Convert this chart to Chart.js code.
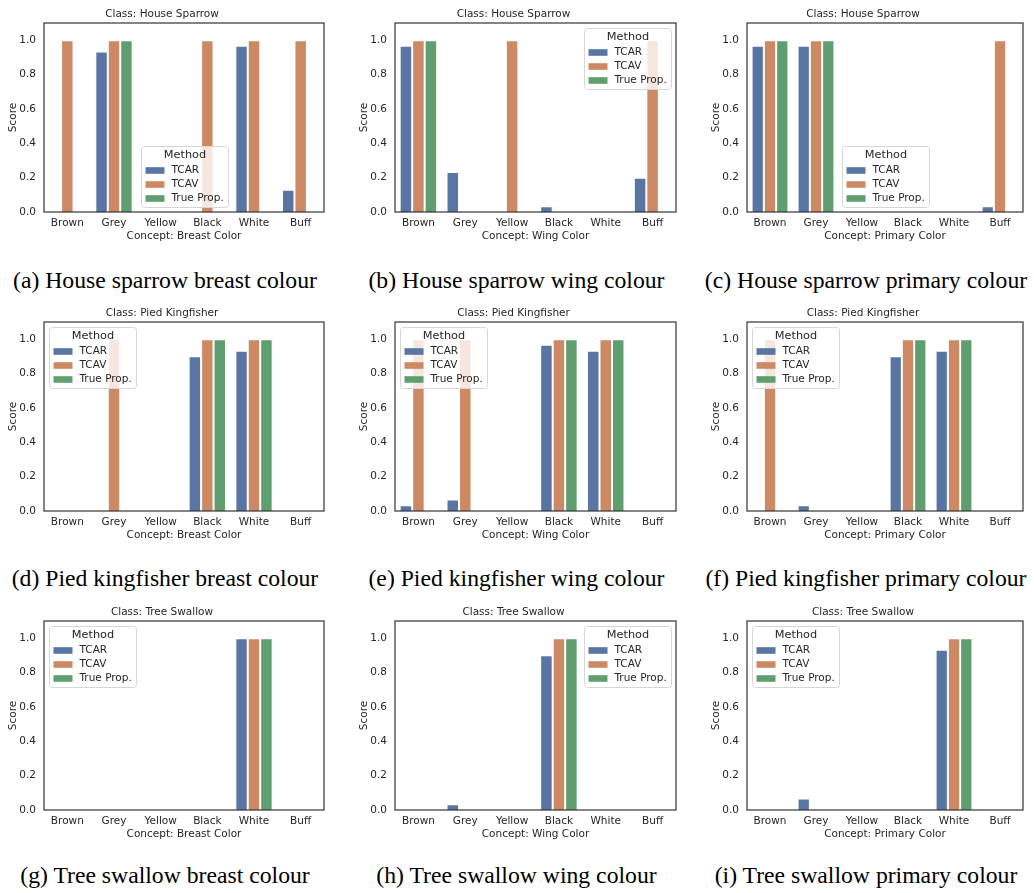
<!DOCTYPE html>
<html lang="en">
<head>
    <meta charset="UTF-8">
    <title>TCAR vs TCAV concept scores</title>
    <script src="https://cdn.jsdelivr.net/npm/chart.js"></script>
    <style>
        html, body { margin: 0; padding: 0; background: #fff; }
        #page { position: relative; width: 1034px; height: 893px; overflow: hidden; }
        .panel { position: absolute; }
        .caption {
            position: absolute;
            width: 380px;
            text-align: center;
            font-family: "Liberation Serif", "Times New Roman", serif;
            font-size: 23.7px;
            line-height: 24px;
            color: #000;
            white-space: nowrap;
        }
    </style>
</head>
<body>
    <div id="page"></div>

    <script>
        // Data
        const categories = ["Brown", "Grey", "Yellow", "Black", "White", "Buff"];
        const methods = ["TCAR", "TCAV", "True Prop."];

        // House Sparrow
        const sparrowBreastTCAR = [0, 0.934, 0, 0, 0.967, 0.13];
        const sparrowBreastTCAV = [1, 1, 0, 1, 1, 1];
        const sparrowBreastTrue = [0, 1, 0, 0, 0, 0];
        const sparrowWingTCAR = [0.967, 0.233, 0, 0.033, 0, 0.2];
        const sparrowWingTCAV = [1, 0, 1, 0, 0, 1];
        const sparrowWingTrue = [1, 0, 0, 0, 0, 0];
        const sparrowPrimaryTCAR = [0.967, 0.967, 0, 0, 0, 0.033];
        const sparrowPrimaryTCAV = [1, 1, 0, 0, 0, 1];
        const sparrowPrimaryTrue = [1, 1, 0, 0, 0, 0];

        // Pied Kingfisher
        const kingfisherBreastTCAR = [0, 0, 0, 0.9, 0.933, 0];
        const kingfisherBreastTCAV = [0, 1, 0, 1, 1, 0];
        const kingfisherBreastTrue = [0, 0, 0, 1, 1, 0];
        const kingfisherWingTCAR = [0.033, 0.067, 0, 0.967, 0.933, 0];
        const kingfisherWingTCAV = [1, 1, 0, 1, 1, 0];
        const kingfisherWingTrue = [0, 0, 0, 1, 1, 0];
        const kingfisherPrimaryTCAR = [0, 0.033, 0, 0.9, 0.933, 0];
        const kingfisherPrimaryTCAV = [1, 0, 0, 1, 1, 0];
        const kingfisherPrimaryTrue = [0, 0, 0, 1, 1, 0];

        // Tree Swallow
        const swallowBreastTCAR = [0, 0, 0, 0, 1, 0];
        const swallowBreastTCAV = [0, 0, 0, 0, 1, 0];
        const swallowBreastTrue = [0, 0, 0, 0, 1, 0];
        const swallowWingTCAR = [0, 0.033, 0, 0.9, 0, 0];
        const swallowWingTCAV = [0, 0, 0, 1, 0, 0];
        const swallowWingTrue = [0, 0, 0, 1, 0, 0];
        const swallowPrimaryTCAR = [0, 0.067, 0, 0, 0.933, 0];
        const swallowPrimaryTCAV = [0, 0, 0, 0, 1, 0];
        const swallowPrimaryTrue = [0, 0, 0, 0, 1, 0];

        const yTicks = [0, 0.2, 0.4, 0.6, 0.8, 1.0];
        const classNames = ["House Sparrow", "Pied Kingfisher", "Tree Swallow"];
        const conceptNames = ["Breast Color", "Wing Color", "Primary Color"];
        const captions = [
            "(a) House sparrow breast colour", "(b) House sparrow wing colour", "(c) House sparrow primary colour",
            "(d) Pied kingfisher breast colour", "(e) Pied kingfisher wing colour", "(f) Pied kingfisher primary colour",
            "(g) Tree swallow breast colour", "(h) Tree swallow wing colour", "(i) Tree swallow primary colour"
        ];
        const legendLocs = [
            "lower center", "upper right", "lower center",
            "upper left", "upper left", "upper left",
            "upper left", "upper right", "upper left"
        ];

        const panelSeries = [
            [sparrowBreastTCAR, sparrowBreastTCAV, sparrowBreastTrue],
            [sparrowWingTCAR, sparrowWingTCAV, sparrowWingTrue],
            [sparrowPrimaryTCAR, sparrowPrimaryTCAV, sparrowPrimaryTrue],
            [kingfisherBreastTCAR, kingfisherBreastTCAV, kingfisherBreastTrue],
            [kingfisherWingTCAR, kingfisherWingTCAV, kingfisherWingTrue],
            [kingfisherPrimaryTCAR, kingfisherPrimaryTCAV, kingfisherPrimaryTrue],
            [swallowBreastTCAR, swallowBreastTCAV, swallowBreastTrue],
            [swallowWingTCAR, swallowWingTCAV, swallowWingTrue],
            [swallowPrimaryTCAR, swallowPrimaryTCAV, swallowPrimaryTrue]
        ];

        // Layout (plot areas in page pixels)
        const colors = ["#5975a4", "#cc8963", "#5f9e6e"];
        const plotLefts = [44, 395, 747];
        const plotWidths = [280, 281, 276];
        const plotTops = [23, 322, 621];
        const plotHeight = 189;
        const captionBaselines = [288, 586, 883];
        const FONT = '"DejaVu Sans", sans-serif';
        const FS = 10.5;
        const TEXT = "#262626";
        const Y_AXIS_W = 44, TITLE_H = 20, X_AXIS_H = 32, PAD_R = 2;

        Chart.defaults.font.family = FONT;
        Chart.defaults.color = TEXT;

        // frame around the axes + matplotlib style legend inside the plot
        const frameAndLegend = {
            id: "frameAndLegend",
            afterDatasetsDraw(chart, args, opts) {
                const ctx = chart.ctx;
                const a = chart.chartArea;
                ctx.save();
                ctx.strokeStyle = "#333";
                ctx.lineWidth = 1.2;
                ctx.strokeRect(a.left, a.top, a.right - a.left, a.bottom - a.top);

                const sets = chart.data.datasets;
                ctx.font = FS + "px " + FONT;
                const tw = Math.max(...sets.map(d => ctx.measureText(d.label).width));
                const w = Math.round(30 + tw + 5);
                const h = 61;
                let x, y;
                if (opts.loc === "lower center") {
                    x = (a.left + a.right) / 2 - w / 2;
                    y = a.bottom - 5 - h;
                } else if (opts.loc === "upper right") {
                    x = a.right - 5 - w;
                    y = a.top + 5;
                } else {
                    x = a.left + 5;
                    y = a.top + 5;
                }
                x = Math.round(x) + 0.5;
                y = Math.round(y) + 0.5;
                ctx.beginPath();
                ctx.roundRect(x, y, w, h, 3);
                ctx.fillStyle = "rgba(255,255,255,0.8)";
                ctx.fill();
                ctx.strokeStyle = "#d6d6d6";
                ctx.lineWidth = 1;
                ctx.stroke();

                ctx.fillStyle = TEXT;
                ctx.textBaseline = "middle";
                ctx.textAlign = "center";
                ctx.font = "11.3px " + FONT;
                ctx.fillText("Method", x + w / 2, y + 9);
                ctx.textAlign = "left";
                ctx.font = FS + "px " + FONT;
                sets.forEach((d, i) => {
                    const cy = y + 24 + i * 14;
                    ctx.fillStyle = d.backgroundColor;
                    ctx.fillRect(x + 4, cy - 3.3, 19, 6.6);
                    ctx.fillStyle = TEXT;
                    ctx.fillText(d.label, x + 30, cy);
                });
                ctx.restore();
            }
        };

        const page = document.getElementById("page");

        panelSeries.forEach((series, idx) => {
            const row = Math.floor(idx / 3), col = idx % 3;
            const left = plotLefts[col] - Y_AXIS_W;
            const top = plotTops[row] - TITLE_H;
            const width = plotWidths[col] + Y_AXIS_W + PAD_R;
            const height = TITLE_H + plotHeight + X_AXIS_H;

            const wrap = document.createElement("div");
            wrap.className = "panel";
            wrap.style.left = left + "px";
            wrap.style.top = top + "px";
            const canvas = document.createElement("canvas");
            canvas.width = width;
            canvas.height = height;
            wrap.appendChild(canvas);
            page.appendChild(wrap);

            const cap = document.createElement("div");
            cap.className = "caption";
            cap.textContent = captions[idx];
            const capCenter = plotLefts[col] + plotWidths[col] / 2 - 19;
            cap.style.left = (capCenter - 190) + "px";
            cap.style.top = (captionBaselines[row] - 19.7) + "px";
            page.appendChild(cap);

            new Chart(canvas, {
                type: "bar",
                data: {
                    labels: categories,
                    datasets: methods.map((m, i) => ({
                        label: m,
                        data: series[i],
                        backgroundColor: colors[i],
                        borderColor: "rgba(255,255,255,0.85)",
                        borderWidth: 1,
                        categoryPercentage: 0.8,
                        barPercentage: 1.0
                    }))
                },
                options: {
                    responsive: false,
                    animation: false,
                    events: [],
                    layout: { padding: { left: 0, right: PAD_R, top: 0, bottom: 0 } },
                    plugins: {
                        legend: { display: false },
                        tooltip: { enabled: false },
                        title: {
                            display: true,
                            text: "Class: " + classNames[row],
                            color: TEXT,
                            font: { size: FS, weight: "normal", family: FONT },
                            padding: { top: 5.4, bottom: 2 }
                        },
                        frameAndLegend: { loc: legendLocs[idx] }
                    },
                    scales: {
                        x: {
                            grid: { display: false, drawTicks: false },
                            border: { display: false },
                            ticks: { font: { size: FS }, color: TEXT, padding: 4.7, maxRotation: 0 },
                            title: {
                                display: true,
                                text: "Concept: " + conceptNames[col],
                                color: TEXT,
                                font: { size: FS },
                                padding: { top: 0, bottom: 1.7 }
                            },
                            afterFit: s => { s.height = X_AXIS_H; }
                        },
                        y: {
                            min: 0,
                            max: 1.1,
                            grid: { display: false, drawTicks: false },
                            border: { display: false },
                            afterBuildTicks: s => { s.ticks = yTicks.map(v => ({ value: v })); },
                            ticks: {
                                font: { size: FS },
                                color: TEXT,
                                padding: 8,
                                callback: v => Number(v).toFixed(1)
                            },
                            title: {
                                display: true,
                                text: "Score",
                                color: TEXT,
                                font: { size: FS },
                                padding: { top: 6.7, bottom: 0 }
                            },
                            afterFit: s => { s.width = Y_AXIS_W; }
                        }
                    }
                },
                plugins: [frameAndLegend]
            });
        });
    </script>
</body>
</html>
